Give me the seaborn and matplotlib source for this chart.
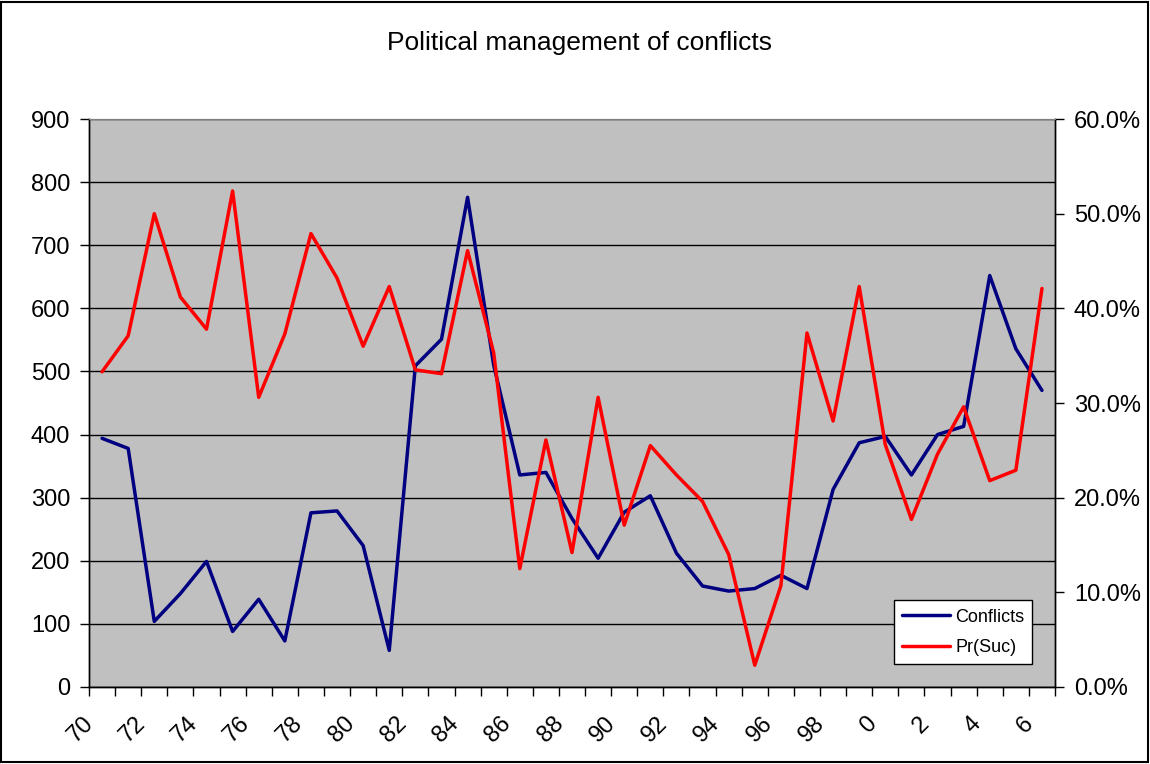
import numpy as np
import pandas as pd
import matplotlib
matplotlib.use('Agg')
import matplotlib.pyplot as plt
import matplotlib.ticker as mticker
import matplotlib.transforms as mtransforms
from matplotlib.patches import Rectangle
import seaborn as sns

# Data
years = list(range(1970, 2007))
year_labels = [str(y % 100) for y in years]
conflicts = [394, 378, 104, 148, 199, 88, 139, 73, 276, 279, 224, 58,
             509, 551, 776, 510, 336, 340, 267, 204, 277, 303, 212, 160, 152,
             156, 177, 156, 313, 387, 397, 336, 400, 413, 652, 536, 470]
pr_suc = [33.3, 37.1, 50.0, 41.2, 37.8, 52.4, 30.6, 37.3, 47.9, 43.2, 36.0, 42.3,
          33.5, 33.1, 46.1, 35.3, 12.5, 26.1, 14.2, 30.6, 17.1, 25.5, 22.4, 19.6, 14.0,
          2.3, 10.7, 37.4, 28.1, 42.3, 25.6, 17.7, 24.6, 29.6, 21.8, 22.9, 42.1]

df = pd.DataFrame({'pos': np.arange(len(years)), 'label': year_labels,
                   'Conflicts': conflicts, 'Pr(Suc)': np.array(pr_suc) / 100})

sns.set_style('white')
plt.rcParams['font.family'] = ['Liberation Sans', 'DejaVu Sans']
plt.rcParams['text.color'] = 'black'
plt.rcParams['xtick.color'] = 'black'
plt.rcParams['ytick.color'] = 'black'

fig = plt.figure(figsize=(11.5, 7.64), dpi=100)
ax = fig.add_axes([0.0774, 0.1008, 0.8400, 0.7434])
ax.set_facecolor('#C0C0C0')

sns.lineplot(data=df, x='pos', y='Conflicts', ax=ax, color='#000080', linewidth=2.5, label='Conflicts', legend=False)
ax2 = ax.twinx()
sns.lineplot(data=df, x='pos', y='Pr(Suc)', ax=ax2, color='#FF0000', linewidth=2.5, label='Pr(Suc)', legend=False)

# Left axis
ax.set_ylim(0, 900)
ax.set_yticks(np.arange(0, 901, 100))
ax.yaxis.grid(True, color='black', linewidth=1)
ax.set_axisbelow(True)
ax.tick_params(axis='y', direction='out', length=6.5, width=1, pad=7, labelsize=17, left=True)

# Right axis
ax2.set_ylim(0, 0.6)
ax2.set_yticks(np.arange(0, 0.61, 0.1))
ax2.yaxis.set_major_formatter(mticker.PercentFormatter(xmax=1, decimals=1))
ax2.tick_params(axis='y', direction='out', length=6.5, width=1, pad=7, labelsize=17, right=True)

# X axis: ticks between categories, labels every other year
ax.set_xlim(-0.5, len(years) - 0.5)
ax.set_xticks(df['pos'][::2])
ax.set_xticklabels(df['label'][::2], rotation=45, ha='right', va='center', rotation_mode='anchor')
ax.set_xticks(np.arange(-0.5, len(years), 1), minor=True)
ax.tick_params(axis='x', which='major', length=0, pad=24, labelsize=17)
ax.tick_params(axis='x', which='minor', direction='out', length=6.5, width=1, bottom=True)
shift = mtransforms.ScaledTranslation(-0.12, 0, fig.dpi_scale_trans)
for lbl in ax.get_xticklabels():
    lbl.set_transform(lbl.get_transform() + shift)

for a in (ax, ax2):
    a.set_xlabel('')
    a.set_ylabel('')
    for side in ('left', 'right', 'bottom'):
        a.spines[side].set_color('black')
        a.spines[side].set_linewidth(1)
    a.spines['top'].set_color('#808080')

# Legend
h1, l1 = ax.get_legend_handles_labels()
h2, l2 = ax2.get_legend_handles_labels()
leg = ax2.legend(h1 + h2, l1 + l2, loc='lower left', bbox_to_anchor=(0.833, 0.04),
                 borderaxespad=0, fancybox=False, edgecolor='black', framealpha=1,
                 fontsize=13, handlelength=2.65, handletextpad=0.3, labelspacing=0.75,
                 borderpad=0.45)
leg.get_frame().set_linewidth(1)

fig.text(0.504, 0.9346, 'Political management of conflicts', ha='center', va='baseline', fontsize=19)
fig.add_artist(Rectangle((0.001, 0.002), 0.997, 0.996, transform=fig.transFigure,
                         fill=False, edgecolor='black', linewidth=1.5))

fig.savefig('out.png', dpi=100)
